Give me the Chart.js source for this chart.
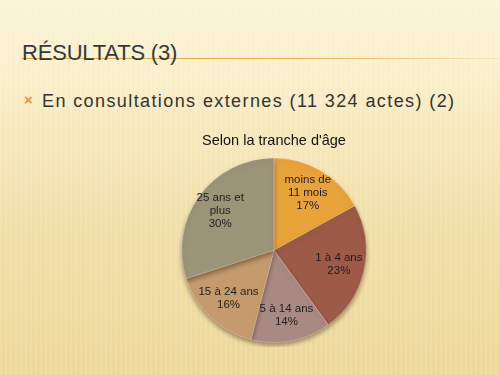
<!DOCTYPE html>
<html>
<head>
<meta charset="utf-8">
<script src="https://cdn.jsdelivr.net/npm/chart.js@4.4.1/dist/chart.umd.min.js"></script>
<style>
  html, body { margin: 0; padding: 0; }
  body {
    width: 500px; height: 375px; overflow: hidden; position: relative;
    background:
      repeating-linear-gradient(90deg, rgba(255,255,255,0.12) 0 2px, rgba(0,0,0,0) 2px 5px),
      linear-gradient(180deg, #fcf4d8 0%, #fbf0cb 18%, #f7e8bc 35%, #f1dfa8 60%, #ecd898 100%);
    font-family: "Liberation Sans", Arial, sans-serif;
  }
  #title {
    position: absolute; left: 22px; top: 40px;
    font-size: 22px; color: #383838; letter-spacing: -0.2px;
  }
  #rule {
    position: absolute; left: 22px; top: 58px; width: 478px; height: 1px;
    background: linear-gradient(90deg, #e6a33c 0%, #eab35a 60%, rgba(234,179,90,0.2) 100%);
  }
  #bullet {
    position: absolute; left: 24px; top: 91px; font-size: 15px; color: #e0992b; font-weight: bold;
  }
  #sub {
    position: absolute; left: 42px; top: 91px; font-size: 18px; color: #333; letter-spacing: 1.4px;
  }
  #wrap { position: absolute; left: 174px; top: 122px; width: 200px; height: 225px; }
</style>
</head>
<body>
<div id="rule"></div>
<div id="title">RÉSULTATS (3)</div>
<div id="bullet">×</div>
<div id="sub">En consultations externes (11 324 actes) (2)</div>
<div id="wrap"><canvas id="pie"></canvas></div>
<script>
const chartTitle = "Selon la tranche d'âge";
const labels = [['moins de', '11 mois'], ['1 à 4 ans'], ['5 à 14 ans'], ['15 à 24 ans'], ['25 ans et', 'plus']];
const shares = [17, 23, 14, 16, 30];
const colors = ['#e9a33b', '#9c5a47', '#a98a82', '#c59b6d', '#9b9479'];

const shadowPlugin = {
  id: 'shadow',
  beforeDatasetsDraw(chart) {
    const ctx = chart.ctx;
    ctx.save();
    ctx.shadowColor = 'rgba(60,40,20,0.45)';
    ctx.shadowBlur = 4;
    ctx.shadowOffsetY = 3;
  },
  afterDatasetsDraw(chart) {
    chart.ctx.restore();
  }
};

const labelPlugin = {
  id: 'sliceLabels',
  afterDatasetsDraw(chart) {
    const ctx = chart.ctx;
    const meta = chart.getDatasetMeta(0);
    ctx.save();
    ctx.font = '11.5px "Liberation Sans", Arial, sans-serif';
    ctx.fillStyle = '#1e1e1e';
    ctx.textAlign = 'center';
    ctx.textBaseline = 'middle';
    meta.data.forEach((arc, i) => {
      const p = arc.getProps(['x', 'y', 'startAngle', 'endAngle', 'outerRadius']);
      const mid = (p.startAngle + p.endAngle) / 2;
      const r = p.outerRadius * 0.72;
      const cx = p.x + Math.cos(mid) * r;
      const cy = p.y + Math.sin(mid) * r;
      const lines = labels[i].concat([shares[i] + '%']);
      const lh = 13;
      lines.forEach((t, j) => {
        ctx.fillText(t, cx, cy + (j - (lines.length - 1) / 2) * lh);
      });
    });
    ctx.restore();
  }
};

new Chart(document.getElementById('pie'), {
  type: 'pie',
  data: {
    labels: labels.map(l => l.join(' ')),
    datasets: [{
      data: shares,
      backgroundColor: colors,
      borderColor: 'rgba(255,255,255,0.25)',
      borderWidth: 1
    }]
  },
  options: {
    responsive: true,
    maintainAspectRatio: false,
    animation: false,
    layout: { padding: { top: 6, bottom: 4 } },
    plugins: {
      legend: { display: false },
      tooltip: { enabled: false },
      title: {
        display: true,
        text: chartTitle,
        color: '#111',
        font: { family: '"Liberation Sans", Arial, sans-serif', size: 14.5, weight: 'normal' },
        padding: { top: 4, bottom: 8 }
      }
    }
  },
  plugins: [shadowPlugin, labelPlugin]
});
</script>
</body>
</html>
